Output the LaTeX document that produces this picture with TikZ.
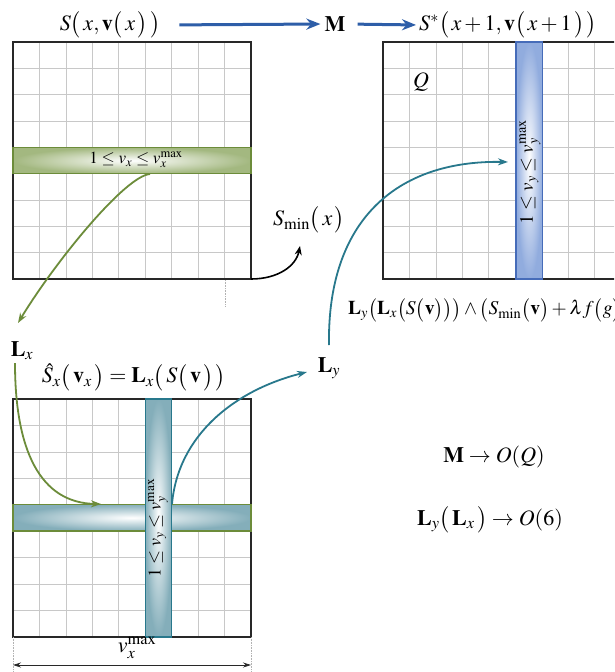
\documentclass[tikz,border=0pt]{standalone}
\usepackage{mathptmx}
\usetikzlibrary{arrows.meta}
\definecolor{topblue}{RGB}{46,94,168}
\definecolor{oliveG}{RGB}{108,140,58}
\definecolor{greenedge}{RGB}{163,184,128}
\definecolor{tealC}{RGB}{40,120,140}
\definecolor{tealedge}{RGB}{132,174,186}
\definecolor{blueedge}{RGB}{145,172,222}
\definecolor{blueborder}{RGB}{70,108,185}
\definecolor{gridgray}{RGB}{200,200,200}
\definecolor{framegray}{RGB}{40,40,40}
\newcommand\Lpar{\bigl(\mkern2mu}
\newcommand\Rpar{\mkern2mu\bigr)}
\tikzset{
  gridline/.style={draw=gridgray, line width=0.7pt},
  frame/.style={draw=framegray, line width=1.3pt},
  barbox/.style={inner sep=0pt, outer sep=0pt, line width=1.2pt},
  greenbar/.style={barbox, draw=oliveG, inner color=white, outer color=greenedge},
  bluebar/.style={barbox, draw=blueborder, inner color=white, outer color=blueedge},
  tealbarv/.style={barbox, draw=tealC, inner color=white, outer color=tealedge},
  tealbarh/.style={barbox, draw=oliveG, inner color=white, outer color=tealedge},
  toparrow/.style={draw=topblue, line width=3pt, -{Stealth[length=14pt,width=11pt]}},
  greenarrow/.style={draw=oliveG, line width=1.8pt, -{Stealth[length=10pt,width=7pt]}},
  tealarrow/.style={draw=tealC, line width=1.8pt, -{Stealth[length=10pt,width=7pt]}},
  blackarrow/.style={draw=black, line width=1.6pt, -{Stealth[length=9pt,width=7pt]}},
  dimarrow/.style={draw=framegray, line width=0.8pt, {Stealth[length=8pt,width=5pt]}-{Stealth[length=8pt,width=5pt]}},
  extline/.style={draw=gray!60, line width=0.6pt, densely dotted},
  lbl/.style={inner sep=0pt}
}
\begin{document}
\begin{tikzpicture}[x=1pt,y=-1pt, font=\fontsize{22}{26}\selectfont]
\useasboundingbox (0,0) rectangle (614,672);
\clip (0,0) rectangle (614,672);
\fill[white] (0,0) rectangle (614,672);

% ---------- top-left grid ----------
\foreach \i in {1,...,8} {
  \draw[gridline] ({13+\i*26.44},42) -- ({13+\i*26.44},279);
  \draw[gridline] (13,{42+\i*26.33}) -- (251,{42+\i*26.33});
}
\draw[frame] (13,42) rectangle (251,279);
\node[greenbar, minimum width=238pt, minimum height=26.33pt] (gbar) at (132,160.5) {};
\node[lbl, font=\fontsize{17}{20}\selectfont] (gbartext) at (136,160) {$1\le v_x\le v_x^{\max}$};

% ---------- top-right grid ----------
\foreach \i in {1,...,8} {
  \draw[gridline] ({383+\i*26.44},42) -- ({383+\i*26.44},279);
  \draw[gridline] (383,{42+\i*26.33}) -- (621,{42+\i*26.33});
}
\draw[frame] (383,42) rectangle (621,279);
\node[bluebar, minimum width=26.44pt, minimum height=237pt] (bbar) at (529.2,160.5) {};
\node[lbl, rotate=90, font=\fontsize{19}{22}\selectfont] (bbartext) at (530,172) {$1\le v_y\le v_y^{\max}$};
\node[lbl] (Q) at (421,82) {$Q$};

% ---------- bottom grid ----------
\foreach \i in {1,...,8} {
  \draw[gridline] ({13+\i*26.44},399) -- ({13+\i*26.44},637);
  \draw[gridline] (13,{399+\i*26.44}) -- (251,{399+\i*26.44});
}
\draw[frame] (13,399) rectangle (251,637);
\node[tealbarh, minimum width=238pt, minimum height=26.44pt] (hbar) at (132,517.7) {};
\node[tealbarv, minimum width=26.44pt, minimum height=238pt] (vbar) at (158.4,518) {};
\node[lbl, rotate=90, font=\fontsize{18}{21}\selectfont] (vbartext) at (158,528) {$1\le v_y\le v_y^{\max}$};

% ---------- dimension ----------
\coordinate (dimL) at (13,665);
\coordinate (dimR) at (251,665);
\draw[extline] (13,637) -- (13,672);
\draw[extline] (251,637) -- (251,672);
\draw[dimarrow] (dimL) -- (dimR);
\node[lbl] (vmax) at (137,648) {$v_x^{\max}$};
\draw[extline] (225,280) -- (225,306);

% ---------- top labels ----------
\node[lbl] (sx) at (110,25) {$S\Lpar x,\mathbf{v}\Lpar x\Rpar\Rpar$};
\node[lbl] (M) at (335,24) {$\mathbf{M}$};
\node[lbl, anchor=west] (sstar) at (419,25) {$S^{*}\Lpar x+1,\mathbf{v}\Lpar x+1\Rpar\Rpar$};
\draw[toparrow, shorten <=19pt, shorten >=4pt] (sx.east) -- (M.west);
\draw[toparrow, shorten <=12pt, shorten >=3pt] (M.east) -- (sstar.west);

% ---------- other labels ----------
\node[lbl] (Smin) at (309,220) {$S_{\min}\Lpar x\Rpar$};
\node[lbl] (Lx) at (22,351) {$\mathbf{L}_x$};
\node[lbl] (Ly) at (329,368) {$\mathbf{L}_y$};
\node[lbl] (shat) at (134,377) {$\hat{S}_x\Lpar\mathbf{v}_x\Rpar=\mathbf{L}_x\Lpar S\Lpar\mathbf{v}\Rpar\Rpar$};
\node[lbl, anchor=west, font=\fontsize{19.5}{23}\selectfont] (longf) at (348,310) {$\mathbf{L}_y\bigl(\mathbf{L}_x\bigl(S\bigl(\mathbf{v}\bigr)\bigr)\bigr)\wedge\bigl(S_{\min}\bigl(\mathbf{v}\bigr)+\lambda f\bigl(g\bigr)\bigr)$};
\node[lbl] (MO) at (494,457) {$\mathbf{M}\rightarrow O(Q)$};
\node[lbl] (LO) at (490,520) {$\mathbf{L}_y\Lpar\mathbf{L}_x\Rpar\rightarrow O(6)$};

% ---------- connectors ----------
\coordinate (gstart) at (150,174);
\coordinate (gend) at (18,323);
\draw[greenarrow] (gstart) .. controls (125,176) and (55,262) .. (gend);

\coordinate (g2start) at (15,363);
\coordinate (g2end) at (101,504);
\draw[greenarrow] (g2start) .. controls (15,450) and (40,503) .. (g2end);

\coordinate (t2start) at (172,504);
\coordinate (t2end) at (307,372);
\draw[tealarrow] (t2start) .. controls (178,435) and (235,390) .. (t2end);

\coordinate (t1start) at (329,345);
\coordinate (t1end) at (508,162);
\draw[tealarrow] (t1start) .. controls (327,222) and (395,160) .. (t1end);

\coordinate (bstart) at (251,279);
\coordinate (bend) at (300,246);
\draw[blackarrow] (bstart) .. controls (278,279) and (296,266) .. (bend);
\end{tikzpicture}
\end{document}
